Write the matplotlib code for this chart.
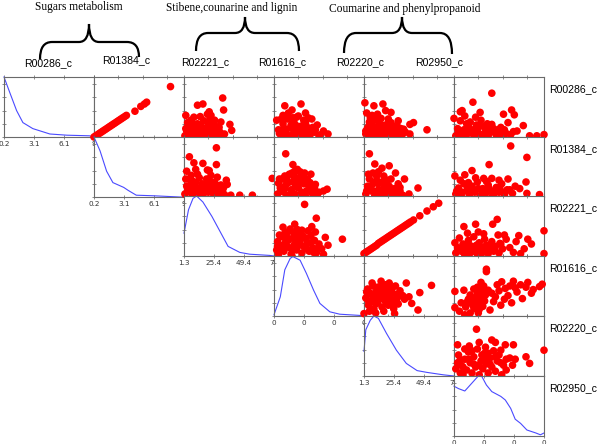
import matplotlib
matplotlib.use("Agg")
import matplotlib.pyplot as plt
from matplotlib.path import Path
from matplotlib.patches import PathPatch

# ---------------- data ----------------
variables = ["R00286_c", "R01384_c", "R02221_c", "R01616_c", "R02220_c", "R02950_c"]
groups = ["Sugars metabolism", "Stibene,counarine and lignin", "Coumarine and phenylpropanoid"]

diag_ticks = [0, 1 / 3, 2 / 3, 1]
ticklabels_R00286 = ["0.2", "3.1", "6.1", "9"]
ticklabels_R01384 = ["0.2", "3.1", "6.1", "9"]
ticklabels_R02221 = ["1.3", "25.4", "49.4", "73"]
ticklabels_R01616 = ["0", "0", "0", "0"]
ticklabels_R02220 = ["1.3", "25.4", "49.4", "73"]
ticklabels_R02950 = ["0", "0", "0", "0"]

# density curves (normalised panel units)
dens_R00286_x = [0, 0.067, 0.14, 0.21, 0.32, 0.51, 0.70, 0.95, 1.0]
dens_R00286_y = [1.0, 0.73, 0.44, 0.24, 0.14, 0.05, 0.03, 0.02, 0.0]
dens_R01384_x = [0, 0.067, 0.14, 0.21, 0.33, 0.38, 0.47, 0.67, 0.95, 1.0]
dens_R01384_y = [1.0, 0.77, 0.43, 0.24, 0.16, 0.11, 0.03, 0.02, 0.0, 0.0]
dens_R02221_x = [0, 0.05, 0.10, 0.14, 0.21, 0.31, 0.40, 0.49, 0.62, 0.73, 0.95, 1.0]
dens_R02221_y = [0.38, 0.77, 0.96, 1.0, 0.90, 0.66, 0.41, 0.16, 0.06, 0.03, 0.01, 0.0]
dens_R01616_x = [0, 0.07, 0.12, 0.18, 0.21, 0.29, 0.36, 0.44, 0.51, 0.62, 0.73, 0.95, 1.0]
dens_R01616_y = [0.02, 0.32, 0.77, 0.96, 0.99, 0.93, 0.71, 0.43, 0.21, 0.07, 0.03, 0.01, 0.0]
dens_R02220_x = [0, 0.02, 0.07, 0.11, 0.16, 0.25, 0.36, 0.47, 0.59, 0.70, 0.88, 1.0]
dens_R02220_y = [0.41, 0.77, 0.93, 1.0, 0.96, 0.71, 0.43, 0.21, 0.09, 0.06, 0.02, 0.0]
dens_R02950_x = [0, 0.05, 0.12, 0.18, 0.27, 0.31, 0.36, 0.42, 0.52, 0.57, 0.63, 0.68, 0.74, 0.81, 0.91, 0.96, 1.0]
dens_R02950_y = [0.83, 0.79, 0.75, 0.85, 1.0, 0.99, 0.85, 0.74, 0.66, 0.60, 0.46, 0.28, 0.21, 0.10, 0.05, 0.02, 0.05]

# scatter panels (row variable on y, column variable on x), normalised units
sc_01_x = [0.0, 0.02, 0.04, 0.06, 0.08, 0.10, 0.12, 0.14, 0.16, 0.18, 0.20, 0.22, 0.24, 0.26, 0.28, 0.30, 0.32, 0.34, 0.36, 0.455, 0.52, 0.56, 0.585, 0.85]
sc_01_y = [0.0, 0.02, 0.04, 0.06, 0.08, 0.10, 0.12, 0.14, 0.16, 0.18, 0.20, 0.22, 0.24, 0.26, 0.28, 0.30, 0.32, 0.34, 0.36, 0.43, 0.51, 0.55, 0.58, 0.84]

sc_02_x = [0.15, 0.21, 0.43, 0.44, 0.02, 0.26, 0.41, 0.51, 0.53, 0.45, 0.01, 0.03, 0.05, 0.07, 0.08, 0.10, 0.12, 0.13, 0.15, 0.17, 0.19, 0.20, 0.22, 0.24, 0.26, 0.28, 0.29, 0.31, 0.33, 0.35, 0.37, 0.39, 0.40, 0.04, 0.09, 0.16, 0.23, 0.30, 0.06, 0.18, 0.27, 0.34, 0.11, 0.28, 0.30,
           0.02, 0.06, 0.10, 0.14, 0.18, 0.22, 0.26, 0.30, 0.34, 0.38, 0.42, 0.04, 0.12, 0.20, 0.28, 0.36]
sc_02_y = [0.53, 0.55, 0.65, 0.45, 0.36, 0.38, 0.25, 0.21, 0.11, 0.05, 0.02, 0.10, 0.05, 0.18, 0.28, 0.08, 0.14, 0.02, 0.22, 0.10, 0.04, 0.16, 0.27, 0.08, 0.02, 0.13, 0.30, 0.20, 0.06, 0.12, 0.03, 0.16, 0.08, 0.24, 0.02, 0.06, 0.03, 0.04, 0.12, 0.34, 0.22, 0.28, 0.33, 0.42, 0.36,
           0.14, 0.02, 0.22, 0.12, 0.20, 0.06, 0.16, 0.10, 0.20, 0.10, 0.04, 0.06, 0.18, 0.10, 0.24, 0.06]

sc_03_x = [0.12, 0.30, 0.35, 0.20, 0.25, 0.42, 0.48, 0.55, 0.60, 0.05, 0.08, 0.10, 0.13, 0.15, 0.18, 0.20, 0.22, 0.25, 0.27, 0.30, 0.32, 0.35, 0.37, 0.40, 0.43, 0.45, 0.50, 0.03, 0.16, 0.28, 0.38, 0.10, 0.24, 0.34,
           0.06, 0.11, 0.14, 0.19, 0.23, 0.26, 0.31, 0.36, 0.41, 0.46, 0.52, 0.08, 0.21, 0.33]
sc_03_y = [0.52, 0.55, 0.40, 0.45, 0.33, 0.30, 0.20, 0.10, 0.05, 0.12, 0.02, 0.22, 0.08, 0.30, 0.15, 0.04, 0.25, 0.10, 0.35, 0.18, 0.06, 0.24, 0.12, 0.03, 0.16, 0.08, 0.02, 0.28, 0.40, 0.02, 0.32, 0.36, 0.20, 0.05,
           0.06, 0.15, 0.02, 0.20, 0.14, 0.05, 0.12, 0.18, 0.08, 0.12, 0.04, 0.30, 0.32, 0.28]

sc_04_x = [0.01, 0.11, 0.21, 0.24, 0.30, 0.09, 0.38, 0.51, 0.55, 0.70, 0.51, 0.44, 0.02, 0.04, 0.06, 0.08, 0.10, 0.12, 0.14, 0.16, 0.18, 0.20, 0.22, 0.24, 0.26, 0.28, 0.30, 0.32, 0.34, 0.36, 0.40, 0.42, 0.05, 0.13, 0.27, 0.19, 0.07, 0.33, 0.46, 0.03, 0.15,
           0.02, 0.06, 0.10, 0.14, 0.18, 0.22, 0.26, 0.30, 0.34, 0.38, 0.09, 0.17, 0.25, 0.31, 0.41]
sc_04_y = [0.57, 0.52, 0.55, 0.44, 0.41, 0.36, 0.27, 0.21, 0.24, 0.12, 0.05, 0.13, 0.05, 0.15, 0.25, 0.08, 0.18, 0.02, 0.28, 0.10, 0.04, 0.20, 0.12, 0.03, 0.16, 0.07, 0.24, 0.02, 0.12, 0.05, 0.10, 0.02, 0.02, 0.08, 0.30, 0.31, 0.32, 0.18, 0.08, 0.40, 0.38,
           0.10, 0.20, 0.12, 0.16, 0.14, 0.06, 0.22, 0.12, 0.08, 0.16, 0.26, 0.22, 0.14, 0.06, 0.14]

sc_05_x = [0.42, 0.21, 0.09, 0.07, 0.29, 0.24, 0.55, 0.64, 0.67, 0.60, 0.0, 0.42, 0.77, 0.70, 0.84, 0.92, 1.0, 0.07, 0.14, 0.02, 0.05, 0.08, 0.11, 0.14, 0.17, 0.20, 0.23, 0.26, 0.29, 0.32, 0.35, 0.38, 0.41, 0.44, 0.47, 0.50, 0.53, 0.56, 0.63, 0.66, 0.18, 0.30, 0.12,
           0.04, 0.10, 0.16, 0.22, 0.28, 0.34, 0.40, 0.46, 0.52, 0.58, 0.25, 0.37, 0.49]
sc_05_y = [0.73, 0.58, 0.44, 0.42, 0.41, 0.33, 0.38, 0.45, 0.37, 0.24, 0.31, 0.21, 0.19, 0.10, 0.02, 0.02, 0.04, 0.27, 0.22, 0.02, 0.08, 0.02, 0.12, 0.04, 0.15, 0.06, 0.02, 0.10, 0.18, 0.04, 0.12, 0.02, 0.08, 0.14, 0.03, 0.08, 0.02, 0.12, 0.04, 0.09, 0.25, 0.28, 0.35,
           0.14, 0.06, 0.10, 0.12, 0.05, 0.18, 0.14, 0.10, 0.16, 0.06, 0.20, 0.22, 0.12]

sc_12_x = [0.36, 0.06, 0.11, 0.21, 0.36, 0.13, 0.03, 0.26, 0.28, 0.48, 0.62, 0.76, 0.52, 0.98, 0.01, 0.03, 0.05, 0.07, 0.09, 0.11, 0.13, 0.15, 0.17, 0.19, 0.21, 0.23, 0.25, 0.27, 0.29, 0.31, 0.33, 0.35, 0.37, 0.39, 0.41, 0.43, 0.45, 0.15, 0.08, 0.30, 0.47, 0.20, 0.40, 0.02,
           0.04, 0.08, 0.12, 0.16, 0.20, 0.24, 0.28, 0.32, 0.36, 0.40, 0.44, 0.10, 0.18, 0.26, 0.34, 0.42]
sc_12_y = [0.82, 0.67, 0.57, 0.56, 0.54, 0.46, 0.43, 0.45, 0.44, 0.21, 0.03, 0.03, 0.03, 0.31, 0.05, 0.18, 0.10, 0.28, 0.03, 0.15, 0.24, 0.06, 0.32, 0.12, 0.02, 0.20, 0.30, 0.08, 0.16, 0.25, 0.04, 0.14, 0.33, 0.07, 0.20, 0.12, 0.04, 0.38, 0.36, 0.36, 0.28, 0.22, 0.03, 0.30,
           0.10, 0.18, 0.06, 0.14, 0.10, 0.14, 0.24, 0.10, 0.20, 0.12, 0.16, 0.26, 0.06, 0.20, 0.24, 0.06]

sc_13_x = [0.13, 0.21, 0.23, 0.31, 0.05, 0.46, 0.59, 0.55, 0.04, 0.07, 0.09, 0.11, 0.13, 0.15, 0.17, 0.19, 0.21, 0.23, 0.25, 0.27, 0.29, 0.31, 0.33, 0.35, 0.37, 0.39, 0.41, 0.43, 0.45, 0.48, 0.26, 0.20, 0.34, 0.12, 0.06, 0.40, 0.18, 0.28, 0.50,
           0.08, 0.12, 0.16, 0.20, 0.24, 0.28, 0.32, 0.36, 0.40, 0.44, 0.14, 0.22, 0.30, 0.38]
sc_13_y = [0.72, 0.54, 0.43, 0.35, 0.23, 0.21, 0.13, 0.10, 0.05, 0.15, 0.30, 0.08, 0.20, 0.02, 0.38, 0.12, 0.25, 0.05, 0.32, 0.15, 0.42, 0.08, 0.22, 0.02, 0.30, 0.12, 0.38, 0.05, 0.15, 0.03, 0.46, 0.40, 0.40, 0.35, 0.30, 0.24, 0.02, 0.03, 0.08,
           0.10, 0.14, 0.24, 0.08, 0.18, 0.24, 0.30, 0.10, 0.18, 0.10, 0.30, 0.34, 0.34, 0.20]

sc_14_x = [0.06, 0.12, 0.20, 0.28, 0.35, 0.45, 0.60, 0.02, 0.04, 0.06, 0.08, 0.10, 0.12, 0.14, 0.16, 0.18, 0.20, 0.22, 0.24, 0.26, 0.28, 0.30, 0.32, 0.34, 0.36, 0.38, 0.40, 0.43, 0.10, 0.22, 0.30, 0.16, 0.05, 0.50,
           0.03, 0.08, 0.12, 0.16, 0.20, 0.24, 0.28, 0.32, 0.36, 0.40, 0.14, 0.26]
sc_14_y = [0.72, 0.55, 0.48, 0.52, 0.40, 0.30, 0.15, 0.05, 0.18, 0.30, 0.10, 0.22, 0.02, 0.35, 0.12, 0.05, 0.25, 0.15, 0.03, 0.20, 0.08, 0.30, 0.02, 0.14, 0.06, 0.22, 0.10, 0.03, 0.40, 0.35, 0.12, 0.42, 0.38, 0.05,
           0.10, 0.14, 0.08, 0.22, 0.10, 0.12, 0.18, 0.08, 0.14, 0.16, 0.28, 0.28]

sc_15_x = [0.63, 0.81, 0.39, 0.20, 0.01, 0.12, 0.33, 0.42, 0.60, 0.80, 0.73, 0.95, 0.81, 0.42, 0.02, 0.05, 0.08, 0.11, 0.14, 0.17, 0.20, 0.23, 0.26, 0.29, 0.32, 0.35, 0.38, 0.41, 0.44, 0.47, 0.50, 0.53, 0.56, 0.59, 0.65, 0.68, 0.07, 0.24, 0.50, 0.30,
           0.03, 0.09, 0.15, 0.21, 0.27, 0.33, 0.39, 0.45, 0.51, 0.57, 0.62, 0.16, 0.36]
sc_15_y = [0.85, 0.66, 0.54, 0.44, 0.35, 0.37, 0.31, 0.31, 0.30, 0.25, 0.14, 0.04, 0.06, 0.00, 0.05, 0.15, 0.02, 0.22, 0.10, 0.03, 0.18, 0.08, 0.25, 0.02, 0.14, 0.06, 0.20, 0.10, 0.02, 0.16, 0.08, 0.22, 0.03, 0.12, 0.06, 0.18, 0.28, 0.32, 0.28, 0.12,
           0.10, 0.08, 0.16, 0.12, 0.14, 0.08, 0.14, 0.08, 0.14, 0.08, 0.12, 0.24, 0.26]

sc_23_x = [0.34, 0.47, 0.23, 0.42, 0.10, 0.31, 0.57, 0.76, 0.04, 0.03, 0.05, 0.07, 0.09, 0.11, 0.13, 0.15, 0.17, 0.19, 0.21, 0.23, 0.25, 0.27, 0.29, 0.31, 0.33, 0.35, 0.37, 0.39, 0.41, 0.43, 0.45, 0.47, 0.50, 0.53, 0.55, 0.18, 0.26, 0.38, 0.12, 0.06, 0.46, 0.60, 0.20,
           0.04, 0.08, 0.12, 0.16, 0.20, 0.24, 0.28, 0.32, 0.36, 0.40, 0.44, 0.48, 0.14, 0.22, 0.30]
sc_23_y = [0.86, 0.63, 0.53, 0.49, 0.48, 0.43, 0.31, 0.28, 0.24, 0.10, 0.03, 0.18, 0.32, 0.08, 0.24, 0.40, 0.14, 0.03, 0.30, 0.20, 0.10, 0.36, 0.25, 0.05, 0.16, 0.30, 0.22, 0.08, 0.34, 0.14, 0.26, 0.05, 0.20, 0.12, 0.03, 0.45, 0.44, 0.42, 0.38, 0.35, 0.40, 0.18, 0.00,
           0.16, 0.12, 0.18, 0.26, 0.12, 0.28, 0.18, 0.34, 0.12, 0.22, 0.06, 0.12, 0.32, 0.38, 0.30]

sc_24_x = [0.0, 0.02, 0.04, 0.06, 0.08, 0.10, 0.12, 0.14, 0.16, 0.18, 0.20, 0.22, 0.24, 0.26, 0.28, 0.30, 0.32, 0.34, 0.36, 0.38, 0.40, 0.42, 0.44, 0.46, 0.48, 0.50, 0.52, 0.55, 0.62, 0.70, 0.77, 0.83]
sc_24_y = [0.04, 0.06, 0.08, 0.10, 0.12, 0.14, 0.16, 0.18, 0.21, 0.23, 0.25, 0.27, 0.29, 0.31, 0.33, 0.35, 0.37, 0.39, 0.41, 0.43, 0.45, 0.47, 0.49, 0.51, 0.53, 0.55, 0.57, 0.60, 0.67, 0.75, 0.82, 0.88]

sc_25_x = [0.48, 0.43, 0.11, 0.24, 0.33, 0.49, 0.56, 0.51, 0.69, 0.82, 0.86, 1.0, 1.0, 0.74, 0.01, 0.02, 0.04, 0.06, 0.08, 0.10, 0.12, 0.14, 0.16, 0.18, 0.20, 0.22, 0.24, 0.26, 0.28, 0.30, 0.32, 0.34, 0.36, 0.38, 0.40, 0.42, 0.44, 0.46, 0.50, 0.54, 0.58, 0.62, 0.66, 0.72, 0.15, 0.27, 0.78,
           0.05, 0.09, 0.13, 0.17, 0.21, 0.25, 0.29, 0.33, 0.37, 0.41, 0.45, 0.52]
sc_25_y = [0.61, 0.53, 0.49, 0.53, 0.37, 0.35, 0.35, 0.21, 0.24, 0.28, 0.20, 0.42, 0.04, 0.04, 0.22, 0.05, 0.14, 0.30, 0.08, 0.20, 0.02, 0.12, 0.26, 0.05, 0.16, 0.32, 0.10, 0.03, 0.22, 0.14, 0.06, 0.28, 0.18, 0.04, 0.12, 0.24, 0.08, 0.16, 0.05, 0.12, 0.28, 0.14, 0.06, 0.34, 0.38, 0.40, 0.12,
           0.10, 0.14, 0.08, 0.18, 0.08, 0.18, 0.06, 0.14, 0.10, 0.18, 0.12, 0.20]

sc_34_x = [0.47, 0.75, 0.62, 0.53, 0.60, 0.34, 0.0, 0.43, 0.02, 0.04, 0.05, 0.07, 0.08, 0.10, 0.11, 0.12, 0.14, 0.15, 0.17, 0.18, 0.20, 0.21, 0.23, 0.24, 0.26, 0.27, 0.29, 0.30, 0.32, 0.33, 0.35, 0.37, 0.38, 0.40, 0.06, 0.13, 0.22, 0.28, 0.09, 0.19, 0.36, 0.16, 0.03, 0.25, 0.31, 0.11, 0.45, 0.50,
           0.05, 0.09, 0.13, 0.17, 0.21, 0.25, 0.29, 0.33, 0.37, 0.15, 0.23, 0.31]
sc_34_y = [0.55, 0.51, 0.39, 0.21, 0.10, 0.04, 0.04, 0.34, 0.30, 0.45, 0.18, 0.38, 0.25, 0.50, 0.12, 0.32, 0.42, 0.22, 0.48, 0.30, 0.15, 0.40, 0.26, 0.52, 0.35, 0.18, 0.45, 0.28, 0.38, 0.12, 0.50, 0.30, 0.20, 0.42, 0.08, 0.05, 0.08, 0.55, 0.55, 0.58, 0.25, 0.35, 0.40, 0.44, 0.20, 0.28, 0.28, 0.32,
           0.25, 0.35, 0.20, 0.28, 0.32, 0.22, 0.35, 0.25, 0.36, 0.48, 0.48, 0.46]

sc_35_x = [0.36, 0.36, 0.30, 0.53, 0.66, 0.82, 0.98, 0.95, 0.88, 0.01, 0.11, 0.38, 0.57, 0.68, 0.76, 0.60, 0.44, 0.23, 0.28, 0.15, 0.01, 0.06, 0.28, 0.18, 0.20, 0.22, 0.24, 0.26, 0.27, 0.29, 0.31, 0.32, 0.33, 0.34, 0.35, 0.12, 0.18, 0.40, 0.42, 0.46, 0.50, 0.52, 0.56, 0.62, 0.70, 0.74, 0.48, 0.08, 0.13, 0.64, 0.80, 0.86,
           0.16, 0.20, 0.24, 0.28, 0.32, 0.36, 0.22, 0.30, 0.26]
sc_35_y = [0.78, 0.74, 0.56, 0.57, 0.58, 0.56, 0.53, 0.49, 0.44, 0.41, 0.43, 0.43, 0.46, 0.47, 0.29, 0.34, 0.24, 0.29, 0.19, 0.24, 0.14, 0.08, 0.11, 0.35, 0.20, 0.45, 0.12, 0.38, 0.05, 0.30, 0.42, 0.16, 0.50, 0.25, 0.35, 0.02, 0.05, 0.10, 0.38, 0.32, 0.42, 0.18, 0.28, 0.50, 0.40, 0.52, 0.52, 0.22, 0.15, 0.22, 0.48, 0.38,
           0.28, 0.30, 0.22, 0.42, 0.24, 0.42, 0.14, 0.36, 0.48]

sc_45_x = [0.25, 0.04, 0.17, 0.42, 0.46, 0.57, 0.66, 0.31, 0.52, 0.07, 0.80, 0.84, 1.0, 0.68, 0.65, 0.07, 0.02, 0.05, 0.08, 0.10, 0.12, 0.14, 0.16, 0.18, 0.20, 0.22, 0.24, 0.26, 0.28, 0.30, 0.32, 0.34, 0.36, 0.38, 0.40, 0.42, 0.44, 0.46, 0.48, 0.50, 0.53, 0.55, 0.58, 0.62, 0.35, 0.28, 0.12,
           0.04, 0.10, 0.16, 0.22, 0.28, 0.34, 0.40, 0.46, 0.52, 0.58, 0.20, 0.38]
sc_45_y = [0.78, 0.52, 0.50, 0.60, 0.56, 0.52, 0.52, 0.35, 0.43, 0.27, 0.32, 0.21, 0.43, 0.28, 0.18, 0.05, 0.12, 0.35, 0.18, 0.02, 0.28, 0.10, 0.40, 0.22, 0.05, 0.32, 0.15, 0.45, 0.02, 0.25, 0.12, 0.38, 0.20, 0.05, 0.30, 0.15, 0.42, 0.08, 0.25, 0.35, 0.02, 0.18, 0.10, 0.30, 0.48, 0.56, 0.45,
           0.22, 0.15, 0.28, 0.20, 0.18, 0.28, 0.20, 0.32, 0.22, 0.28, 0.42, 0.38]

densities = [
    (dens_R00286_x, dens_R00286_y, ticklabels_R00286),
    (dens_R01384_x, dens_R01384_y, ticklabels_R01384),
    (dens_R02221_x, dens_R02221_y, ticklabels_R02221),
    (dens_R01616_x, dens_R01616_y, ticklabels_R01616),
    (dens_R02220_x, dens_R02220_y, ticklabels_R02220),
    (dens_R02950_x, dens_R02950_y, ticklabels_R02950),
]
scatters = {
    (0, 1): (sc_01_x, sc_01_y), (0, 2): (sc_02_x, sc_02_y), (0, 3): (sc_03_x, sc_03_y),
    (0, 4): (sc_04_x, sc_04_y), (0, 5): (sc_05_x, sc_05_y),
    (1, 2): (sc_12_x, sc_12_y), (1, 3): (sc_13_x, sc_13_y), (1, 4): (sc_14_x, sc_14_y),
    (1, 5): (sc_15_x, sc_15_y),
    (2, 3): (sc_23_x, sc_23_y), (2, 4): (sc_24_x, sc_24_y), (2, 5): (sc_25_x, sc_25_y),
    (3, 4): (sc_34_x, sc_34_y), (3, 5): (sc_35_x, sc_35_y),
    (4, 5): (sc_45_x, sc_45_y),
}

# ---------------- figure ----------------
W, H = 600, 444
fig = plt.figure(figsize=(6, 4.44), dpi=100)
fig.patch.set_facecolor("white")

# overlay for titles / braces / labels (pixel coordinates)
ov = fig.add_axes([0, 0, 1, 1])
ov.set_xlim(0, W)
ov.set_ylim(H, 0)
ov.axis("off")

serif = ["Liberation Serif", "DejaVu Serif"]
sans = ["Liberation Sans", "DejaVu Sans"]

group_title_pos = [(79, 7), (232, 8), (405, 9)]
for g, (tx, ty) in zip(groups, group_title_pos):
    ov.text(tx, ty, g, ha="center", va="center", fontsize=8.3, family=serif, color="black")

braces = [  # x0, x1, xc, ymid, ytop, yb_left, yb_right
    (40, 139, 89, 42, 24, 59, 57),
    (196, 299, 245, 33, 17, 51, 51),
    (344, 452, 402, 33, 17, 53, 54),
]
for x0, x1, xc, ym, yt, yl, yr in braces:
    verts = [(x0, yl), (x0, ym), (x0 + 12, ym),
             (xc - 10, ym), (xc, ym), (xc, yt),
             (xc, ym), (xc + 10, ym),
             (x1 - 12, ym), (x1, ym), (x1, yr)]
    codes = [Path.MOVETO, Path.CURVE3, Path.CURVE3,
             Path.LINETO, Path.CURVE3, Path.CURVE3,
             Path.CURVE3, Path.CURVE3,
             Path.LINETO, Path.CURVE3, Path.CURVE3]
    ov.add_patch(PathPatch(Path(verts, codes), facecolor="none", edgecolor="black", lw=1.6))

col_label_pos = [(48, 63.5), (126, 60.5), (205, 62), (282, 62), (360, 62), (439, 62)]
for v, (tx, ty) in zip(variables, col_label_pos):
    ov.text(tx, ty, v, ha="center", va="center", fontsize=7.6, family=sans, color="black")

col_left = [4, 94, 184, 274, 364, 454]
row_top = [77, 137, 196, 256, 316, 376]
pw, ph = 90, 60

for i, v in enumerate(variables):
    ov.text(549, row_top[i] + 12, v, ha="left", va="center", fontsize=7.6, family=sans, color="black")

spine_col = "#6a6a6a"
scatter_xticks = [0, 0.27, 0.54, 0.81]
yticks = [0, 0.22, 0.44, 0.66, 0.88]

for i in range(6):
    for j in range(i, 6):
        left = col_left[j] / W
        bottom = 1 - (row_top[i] + ph) / H
        ax = fig.add_axes([left, bottom, pw / W, ph / H])
        ax.set_facecolor("white")
        ax.set_xlim(0, 1)
        ax.set_ylim(0, 1)
        for s in ax.spines.values():
            s.set_color(spine_col)
            s.set_linewidth(0.8)
        ax.set_yticks(yticks)
        ax.tick_params(axis="both", direction="inout", length=3, width=0.5, color="#606060",
                       top=True, bottom=True, left=True, right=False,
                       labelleft=False, labelbottom=False)
        if i == j:
            dx, dy, labs = densities[i]
            ax.plot(dx, dy, color="#4a4aff", lw=0.8, clip_on=False)
            ax.set_xticks(diag_ticks)
            ax.set_xticklabels(labs)
            ax.tick_params(axis="x", labelbottom=True, labelsize=5.2, pad=1.5, labelcolor="#333333")
        else:
            sx, sy = scatters[(i, j)]
            ax.set_xticks(scatter_xticks)
            ax.scatter(sx, sy, s=30, color="#ff0000", edgecolors="none", clip_on=False, zorder=3)

fig.savefig("out.png", dpi=100, facecolor="white")
